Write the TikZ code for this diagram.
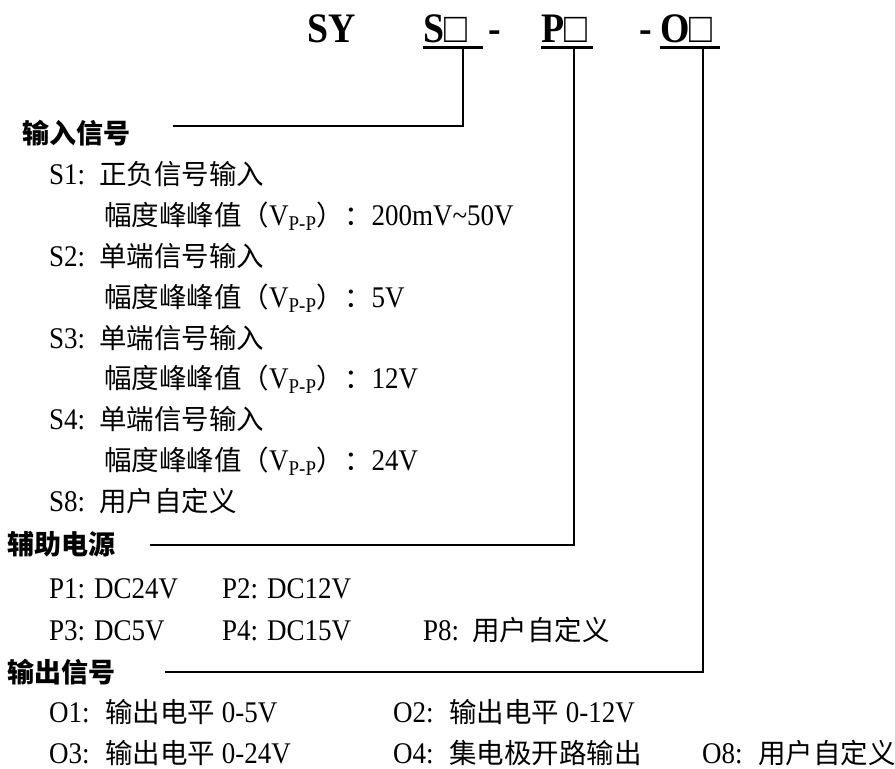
\documentclass[tikz,border=0pt]{standalone}
\usepackage{fontspec}
\setmainfont{Liberation Serif}[FakeStretch=0.9]
\newfontfamily\zhfont{Noto Sans CJK SC}
\newcommand{\zhs}[1]{{\fontsize{27.5}{30}\zhfont #1}}
\begin{document}
\begin{tikzpicture}[x=1pt,y=-1pt,
  every node/.style={inner sep=0pt, anchor=base west},
  txt/.style={font=\fontsize{30}{32}\selectfont},
  head/.style={font=\fontsize{27}{30}\selectfont\zhfont\bfseries},
  ttl/.style={font=\fontsize{42}{46}\selectfont\bfseries},
  ul/.style={line width=3.5pt},
  conn/.style={line width=1.3pt}]
\useasboundingbox (0,0) rectangle (895,769);
% title
\node[ttl] (tSY) at (307,42) {SY};
\node[ttl] (tS) at (423,42) {S{\mdseries □}};
\node[ttl] (tD1) at (488,42) {-};
\node[ttl] (tP) at (541,42) {P{\mdseries □}};
\node[ttl] (tD2) at (639,42) {-};
\node[ttl] (tO) at (660,42) {O{\mdseries □}};
\draw[ul] (423,47.5) -- (483,47.5);
\draw[ul] (541,47.5) -- (593,47.5);
\draw[ul] (660,47.5) -- (720,47.5);
% headings
\node[head] (hIn) at (22,143) {输入信号};
\node[head] (hAux) at (7,554) {辅助电源};
\node[head] (hOut) at (7,682) {输出信号};
% connectors
\coordinate (dS) at (463,49);
\coordinate (dP) at (574,49);
\coordinate (dO) at (703,49);
\coordinate (eIn) at (173,126);
\coordinate (eAux) at (150,545);
\coordinate (eOut) at (165,672);
\draw[conn] (eIn) -| (dS);
\draw[conn] (eAux) -| (dP);
\draw[conn] (eOut) -| (dO);
% input signals
\node[txt] (s1) at (49,184) {S1:};
\node[txt] (s1t) at (99,184) {\zhs{正负信号输入}};
\node[txt] (s1a) at (104,225) {\zhs{幅度峰峰值（}V\textsubscript{P-P}\zhs{）：}200mV\string~50V};
\node[txt] (s2) at (49,266) {S2:};
\node[txt] (s2t) at (99,266) {\zhs{单端信号输入}};
\node[txt] (s2a) at (104,307) {\zhs{幅度峰峰值（}V\textsubscript{P-P}\zhs{）：}5V};
\node[txt] (s3) at (49,348) {S3:};
\node[txt] (s3t) at (99,348) {\zhs{单端信号输入}};
\node[txt] (s3a) at (104,388) {\zhs{幅度峰峰值（}V\textsubscript{P-P}\zhs{）：}12V};
\node[txt] (s4) at (49,429) {S4:};
\node[txt] (s4t) at (99,429) {\zhs{单端信号输入}};
\node[txt] (s4a) at (104,470) {\zhs{幅度峰峰值（}V\textsubscript{P-P}\zhs{）：}24V};
\node[txt] (s8) at (49,511) {S8:};
\node[txt] (s8t) at (99,511) {\zhs{用户自定义}};
% aux power
\node[txt] (p1) at (49,598) {P1: DC24V};
\node[txt] (p2) at (222,598) {P2: DC12V};
\node[txt] (p3) at (49,640) {P3: DC5V};
\node[txt] (p4) at (222,640) {P4: DC15V};
\node[txt] (p8) at (423,640) {P8:};
\node[txt] (p8t) at (472,640) {\zhs{用户自定义}};
% output signals
\node[txt] (o1) at (49,722) {O1:};
\node[txt] (o1t) at (105,722) {\zhs{输出电平} 0-5V};
\node[txt] (o2) at (393,722) {O2:};
\node[txt] (o2t) at (449,722) {\zhs{输出电平} 0-12V};
\node[txt] (o3) at (49,763) {O3:};
\node[txt] (o3t) at (105,763) {\zhs{输出电平} 0-24V};
\node[txt] (o4) at (393,763) {O4:};
\node[txt] (o4t) at (449,763) {\zhs{集电极开路输出}};
\node[txt] (o8) at (702,763) {O8:};
\node[txt] (o8t) at (758,763) {\zhs{用户自定义}};
\end{tikzpicture}
\end{document}
